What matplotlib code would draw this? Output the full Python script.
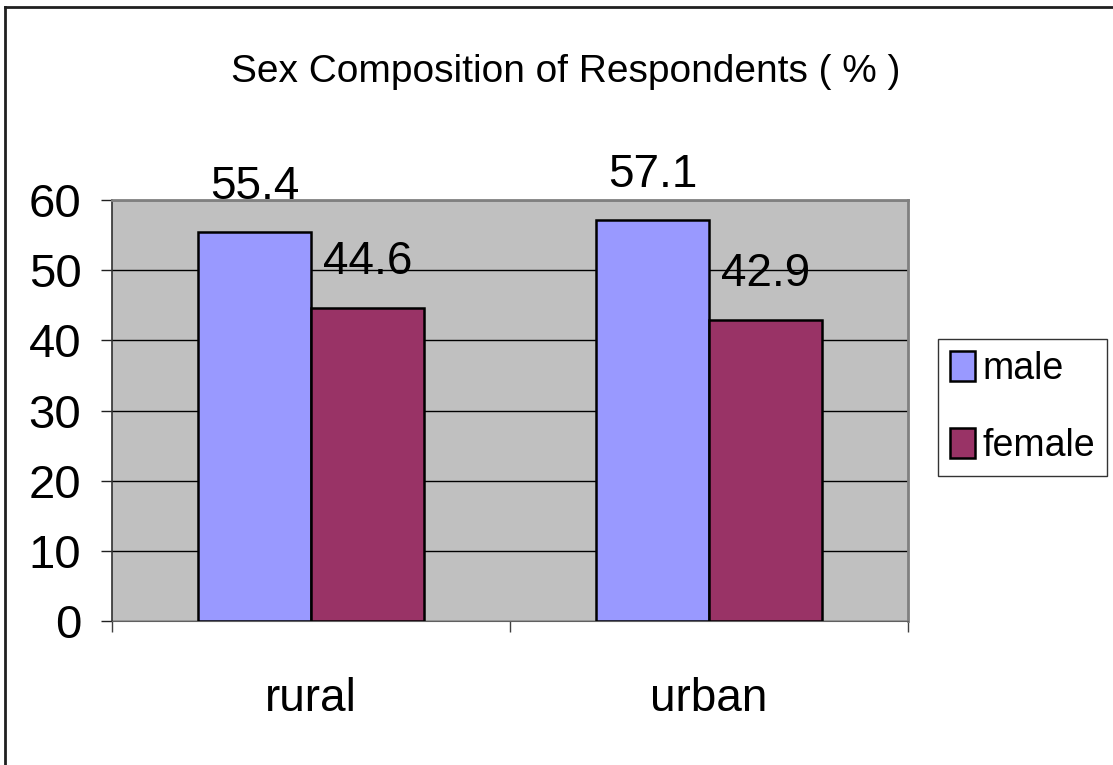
import numpy as np
import matplotlib
matplotlib.use('Agg')
import matplotlib.pyplot as plt
from matplotlib.lines import Line2D

plt.rcParams['font.family'] = ['Liberation Sans Narrow', 'Liberation Sans', 'DejaVu Sans']

categories = ['rural', 'urban']
series_names = ['male', 'female']
male = [55.4, 57.1]
female = [44.6, 42.9]
yticks = [0, 10, 20, 30, 40, 50, 60]

fig = plt.figure(figsize=(11.13, 7.65), dpi=100)
ax = fig.add_axes([0.1006, 0.1882, 0.7152, 0.5503])
ax.set_facecolor('#C0C0C0')

x = np.arange(len(categories))
w = 0.284
b1 = ax.bar(x - w / 2, male, w, color='#9999FF', edgecolor='black', linewidth=1.8,
            label=series_names[0], zorder=3)
b2 = ax.bar(x + w / 2, female, w, color='#993366', edgecolor='black', linewidth=1.8,
            label=series_names[1], zorder=3)

# value labels above each bar
for bars in (b1, b2):
    for r in bars:
        ax.annotate('%.1f' % r.get_height(), (r.get_x() + r.get_width() / 2, r.get_height()),
                    xytext=(0, 17), textcoords='offset points', ha='center', va='bottom',
                    fontsize=33, zorder=5, annotation_clip=False)

ax.set_xlim(-0.5, 1.5)
ax.set_ylim(0, 60)
ax.set_yticks(yticks)
ax.set_yticklabels([str(t) for t in yticks], fontsize=34)
ax.yaxis.grid(True, color='black', linewidth=1, zorder=0)
ax.set_axisbelow(True)

# category ticks sit on boundaries, labels in the middle
ax.set_xticks([-0.5, 0.5, 1.5])
ax.set_xticklabels([])
ax.set_xticks(x, minor=True)
ax.set_xticklabels(categories, minor=True, fontsize=33)
ax.tick_params(axis='x', which='major', length=8, width=1, color='#404040', direction='out')
ax.tick_params(axis='x', which='minor', length=0, pad=40)
ax.tick_params(axis='y', length=8, width=1, color='#202020', pad=14)

for s in ['top', 'right']:
    ax.spines[s].set_color('#808080')
    ax.spines[s].set_linewidth(2)
ax.spines['bottom'].set_color('#606060')
ax.spines['left'].set_color('#303030')
ax.spines['left'].set_linewidth(1.2)

fig.text(0.5085, 0.906, 'Sex Composition of Respondents ( % )', fontsize=28,
         ha='center', va='center')

leg = fig.legend(handles=[b1, b2], loc='center left', bbox_to_anchor=(0.843, 0.467),
                 fontsize=27, frameon=True, fancybox=False, edgecolor='black',
                 handlelength=0.65, handleheight=0.85, handletextpad=0.2,
                 labelspacing=1.1, borderpad=0.32, borderaxespad=0)
leg.get_frame().set_linewidth(1)

# outer chart border
fig.add_artist(Line2D([0.0045, 1.0], [0.9908, 0.9908], color='#202020', linewidth=2,
                      transform=fig.transFigure))
fig.add_artist(Line2D([0.0045, 0.0045], [0.0, 0.9908], color='#202020', linewidth=2,
                      transform=fig.transFigure))

fig.savefig('out.png', dpi=100)
